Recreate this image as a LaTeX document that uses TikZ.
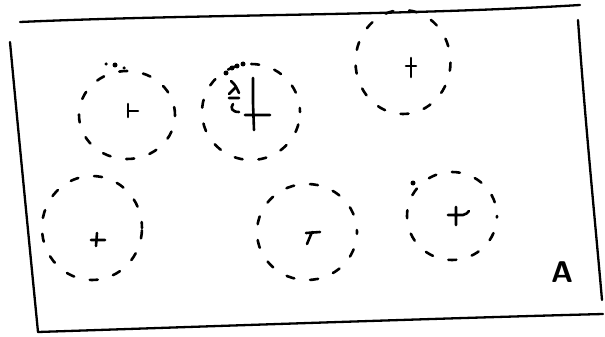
\documentclass[tikz,border=0pt]{standalone}
\usetikzlibrary{shapes.geometric}
\begin{document}
\begin{tikzpicture}[x=1pt,y=-1pt,
  edge/.style={line width=2.3pt,line cap=round},
  blob/.style={draw,ellipse,line width=2.6pt,line cap=round,dash pattern=on 8pt off 16pt,inner sep=0pt},
  glyph/.style={line width=2.6pt,line cap=round},
  dot/.style={fill,circle,inner sep=0pt,minimum size=5pt}]
\useasboundingbox (0,0) rectangle (605,337);
% outline
\coordinate (tl) at (20,22);
\coordinate (tr) at (580,5);
\coordinate (lt) at (10,42);
\coordinate (lb) at (38,332);
\coordinate (bl) at (38,332);
\coordinate (br) at (603,314);
\coordinate (rt) at (578,20);
\coordinate (rb) at (602,300);
\draw[edge] (tl) .. controls (200,14) and (400,16) .. (tr);
\draw[edge] (lt) .. controls (20,150) and (30,250) .. (lb);
\draw[edge] (bl) .. controls (250,325) and (450,318) .. (br);
\draw[edge] (rt) .. controls (585,120) and (595,220) .. (rb);
% circles
\node[blob,minimum width=96pt,minimum height=88pt] (c1) at (127,115) {};
\node[blob,minimum width=98pt,minimum height=96pt,dash phase=4pt] (c2) at (251,112) {};
\node[blob,minimum width=95pt,minimum height=104pt,dash phase=8pt] (c3) at (403,62) {};
\node[blob,minimum width=100pt,minimum height=104pt,dash phase=2pt] (c4) at (92,228) {};
\node[blob,minimum width=100pt,minimum height=96pt,dash phase=6pt] (c5) at (307,232) {};
\node[blob,minimum width=90pt,minimum height=88pt,dash phase=10pt] (c6) at (452,216) {};
% marks
\draw[glyph] (128,104) -- (128,117) (128,111) -- (138,111);
\node[dot] (d1) at (115,65) {};
\node[dot,minimum size=3.5pt] (d1b) at (106,64) {};
\node[dot,minimum size=3.5pt] (d1c) at (124,68) {};
\draw[glyph] (253,78) -- (253,103) -- (254,130) (245,115) -- (270,115);
\draw[glyph] (231,81) .. controls (236,85) and (237,89) .. (239,93) (235,88) -- (229,94) (229,98) -- (239,98) (233,104) .. controls (230,108) and (232,112) .. (239,112);
\node[dot] (d2) at (243,64) {};
\node[dot] (d2b) at (237,66) {};
\node[dot] (d2c) at (232,68) {};
\node[dot] (d2d) at (226,73) {};
\draw[glyph] (411,58) -- (411,77) (406,66) -- (416,66);
\draw[glyph] (91,240) -- (105,240) (97,233) -- (96,246);
\draw[glyph] (306,233) -- (320,232) (312,232) -- (307,244);
\draw[glyph] (448,215) -- (463,215) .. controls (466,214) and (468,213) .. (469,211) (456,207) -- (456,225);
\node[dot] (d6) at (413,183) {};
% label
\node[font=\sffamily\bfseries\fontsize{30}{30}\selectfont,inner sep=0pt] (lbl) at (562,272) {A};
\end{tikzpicture}
\end{document}
